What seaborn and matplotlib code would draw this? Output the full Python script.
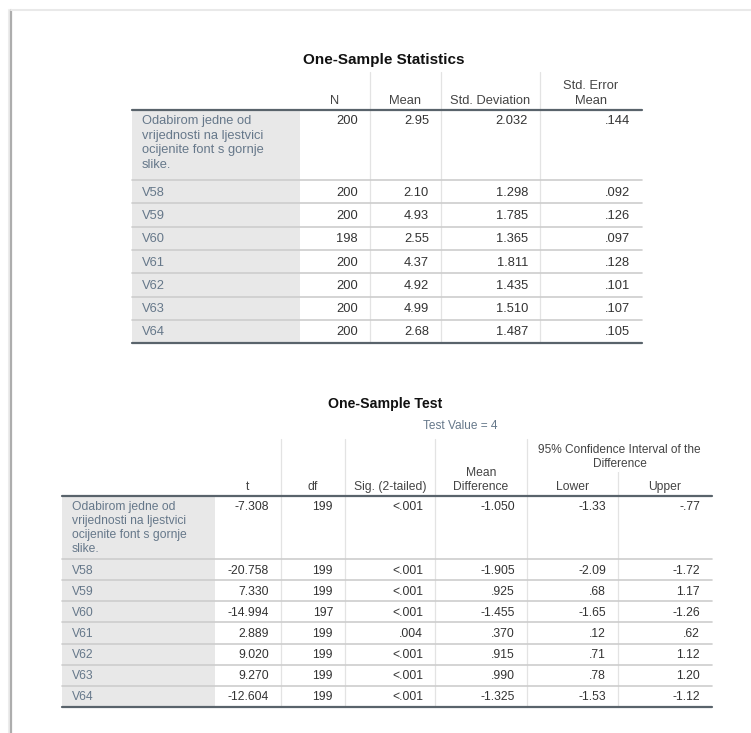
import textwrap
import pandas as pd
import matplotlib
matplotlib.use('Agg')
import matplotlib.pyplot as plt
import seaborn as sns

# SPSS output: one-sample statistics and t-test for the font rating items
row_labels = ["Odabirom jedne od vrijednosti na ljestvici ocijenite font s gornje slike.",
              "V58", "V59", "V60", "V61", "V62", "V63", "V64"]

stat_n = [200, 200, 200, 198, 200, 200, 200, 200]
stat_mean = [2.95, 2.10, 4.93, 2.55, 4.37, 4.92, 4.99, 2.68]
stat_sd = [2.032, 1.298, 1.785, 1.365, 1.811, 1.435, 1.510, 1.487]
stat_se = [.144, .092, .126, .097, .128, .101, .107, .105]

test_value = 4
test_t = [-7.308, -20.758, 7.330, -14.994, 2.889, 9.020, 9.270, -12.604]
test_df = [199, 199, 199, 197, 199, 199, 199, 199]
test_sig = ["<.001", "<.001", "<.001", "<.001", ".004", "<.001", "<.001", "<.001"]
test_md = [-1.050, -1.905, .925, -1.455, .370, .915, .990, -1.325]
test_lower = [-1.33, -2.09, .68, -1.65, .12, .71, .78, -1.53]
test_upper = [-.77, -1.72, 1.17, -1.26, .62, 1.12, 1.20, -1.12]

stats_df = pd.DataFrame({"N": stat_n, "Mean": stat_mean, "Std. Deviation": stat_sd,
                         "Std. Error\nMean": stat_se}, index=row_labels)
test_table = pd.DataFrame({"t": test_t, "df": test_df, "Sig. (2-tailed)": test_sig,
                           "Mean\nDifference": test_md, "Lower": test_lower,
                           "Upper": test_upper}, index=row_labels)

sns.set_theme(style="white")
plt.rcParams['font.family'] = ['Liberation Sans', 'DejaVu Sans']

LABEL_COLOR = '#66788a'
HEAD_COLOR = '#444444'
NUM_COLOR = '#333333'
CELL_BG = '#e8e8e8'
ROW_LINE = '#cdcdcd'
VLINE = '#e3e3e3'
RULE = '#59636b'


def spss(v, dec):
    # SPSS drops the leading zero
    if isinstance(v, str):
        return v
    s = f"{v:.{dec}f}"
    return s.replace("0.", ".", 1) if s.lstrip("-").startswith("0.") else s


def draw_table(ax, df, decs, edges, head_top, head_bottom, first_h, row_h, fs,
               head_ls=1.15, lab_ls=1.2, pad=12):
    left, right = edges[0], edges[-1]
    rows = [head_bottom, head_bottom + first_h]
    for _ in range(len(df) - 1):
        rows.append(rows[-1] + row_h)
    bottom = rows[-1]

    # grey label column
    ax.fill_between([left, edges[1]], head_bottom, bottom, color=CELL_BG, lw=0, zorder=0)
    # column separators
    for x in edges[2:-1]:
        ax.plot([x, x], [head_top, bottom], color=VLINE, lw=0.9, zorder=1)
    for y in rows[1:-1]:
        ax.plot([left, right], [y, y], color=ROW_LINE, lw=1.2, zorder=2)
    ax.plot([left, right], [head_bottom, head_bottom], color=RULE, lw=1.6, zorder=3)
    ax.plot([left, right], [bottom, bottom], color=RULE, lw=1.6, zorder=3)

    # header
    for j, col in enumerate(df.columns):
        cx = (edges[j + 1] + edges[j + 2]) / 2
        ax.text(cx, head_bottom - 3, col, ha='center', va='bottom', fontsize=fs,
                color=HEAD_COLOR, linespacing=head_ls)

    # body
    for i, (lab, vals) in enumerate(df.iterrows()):
        y0, y1 = rows[i], rows[i + 1]
        if i == 0:
            ty, va = y0 + 5, 'top'
        else:
            ty, va = (y0 + y1) / 2 + 1, 'center'
        ax.text(left + 10, ty, textwrap.fill(lab, 24), ha='left', va=va, fontsize=fs,
                color=LABEL_COLOR, linespacing=lab_ls)
        for j, v in enumerate(vals):
            ax.text(edges[j + 2] - pad, ty, spss(v, decs[j]), ha='right', va=va,
                    fontsize=fs, color=NUM_COLOR)
    return bottom


fig = plt.figure(figsize=(7.51, 7.33), dpi=100)
ax = fig.add_axes([0, 0, 1, 1])
ax.set_xlim(0, 751)
ax.set_ylim(733, 0)
ax.axis('off')

# page frame
ax.plot([8.5, 8.5], [10, 733], color='#ececec', lw=1.5)
ax.plot([11, 11], [10, 733], color='#adadad', lw=1.6)
ax.plot([11, 751], [10, 10], color='#e9e9e9', lw=1.5)

# One-Sample Statistics
edges1 = [132, 300, 370, 441, 540, 642]
ax.text(384, 60, "One-Sample Statistics", ha='center', va='center', fontsize=11,
        fontweight='bold', color='#111111')
draw_table(ax, stats_df, [0, 2, 3, 3], edges1, 72, 110, 70, 23.3, 9.3,
           head_ls=1.3, lab_ls=1.28)

# One-Sample Test
edges2 = [62, 215, 281, 345, 435, 527, 618, 712]
ax.text(385, 404, "One-Sample Test", ha='center', va='center', fontsize=10.2,
        fontweight='bold', color='#111111')
ax.text(460, 432, f"Test Value = {test_value}", ha='center', va='bottom', fontsize=8.6,
        color=LABEL_COLOR)
draw_table(ax, test_table, [3, 0, 3, 3, 2, 2], edges2, 439, 496, 63, 21.15, 8.7,
           head_ls=1.2, lab_ls=1.22)
# spanning header for the confidence interval: the Lower/Upper divider starts below it
ax.fill_between([617, 619], 439, 472, color='white', lw=0, zorder=1.5)
ax.text((edges2[5] + edges2[7]) / 2, 470, "95% Confidence Interval of the\nDifference",
        ha='center', va='bottom', fontsize=8.6, color=HEAD_COLOR, linespacing=1.2)

fig.savefig("out.png", dpi=100, facecolor='white')
